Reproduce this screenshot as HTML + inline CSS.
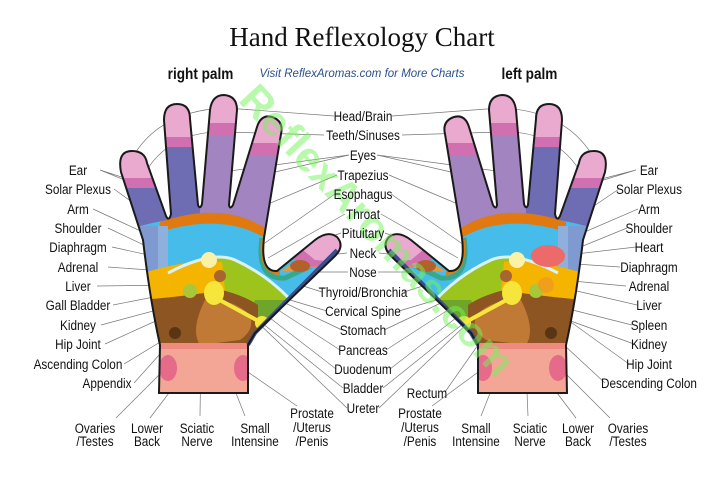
<!DOCTYPE html>
<html><head><meta charset="utf-8"><style>
html,body{margin:0;padding:0;background:#fff;}
svg{display:block;}
.t{font-family:"Liberation Sans",sans-serif;font-size:14px;fill:#111;text-anchor:middle;}
.ln{stroke:#777;stroke-width:0.7;fill:none;}
</style></head><body>
<svg width="716" height="487" viewBox="0 0 716 487" xmlns="http://www.w3.org/2000/svg">
<rect width="716" height="487" fill="#fff"/>
<defs>
<clipPath id="hc">
<path id="hp" d="M159,393 L160,345 Q150,300 143,240 L121,172 Q117,151 132,151 Q145,151 147,163 L166,216 Q169,222 171,214 L164,120 Q164,104 177,104 Q190,104 190,119 L198,205 Q200,210 202,204 L210,110 Q212,95 224,95 Q237,96 237,110 L229,205 Q230,210 233,205 L257,127 Q261,114 272,117 Q284,121 281,134 L264,238 Q260,272 277,271 L315,240 Q328,230 337,237 Q345,246 335,256 L255,333 L248,345 L248,393 Z"/>
</clipPath>
<g id="hand">
<g clip-path="url(#hc)">
<rect x="100" y="80" width="260" height="320" fill="#6e6db4"/>
<rect x="200" y="80" width="90" height="160" fill="#a184c0"/>
<rect x="110" y="140" width="45" height="48" fill="#d070b0"/>
<rect x="110" y="140" width="45" height="38" fill="#eaaad0"/>
<rect x="160" y="95" width="35" height="52" fill="#d070b0"/>
<rect x="160" y="95" width="35" height="42" fill="#eaaad0"/>
<rect x="205" y="90" width="38" height="45" fill="#d070b0"/>
<rect x="205" y="90" width="38" height="33" fill="#eaaad0"/>
<rect x="250" y="110" width="40" height="45" fill="#d070b0"/>
<rect x="250" y="110" width="40" height="33" fill="#eaaad0"/>
<path d="M140,226 Q220,205 270,236 L300,262 L345,240 L345,320 L140,320 Z" fill="#45bce9"/>
<path d="M160,222 Q225,200 268,230 L268,240 Q225,212 160,232 Z" fill="#e07a10"/>
<path d="M262,238 Q256,280 285,278 L345,250" stroke="#38a88a" stroke-width="5" fill="none"/>
<path d="M263,240 Q260,272 280,273" stroke="#e07a10" stroke-width="4" fill="none"/>
<path d="M280,272 L300,258 L312,244 L345,240 L345,262 L300,270 Z" fill="#e39a3a"/>
<path d="M293,258 L312,240 L345,236 L345,262 L305,268 Z" fill="#d070b0"/>
<path d="M303,250 L318,232 L345,232 L345,262 L315,260 Z" fill="#eaaad0"/>
<ellipse cx="300" cy="266" rx="10" ry="6" fill="#b3612a"/>
<rect x="138" y="226" width="30" height="72" fill="#8fb0dc"/>
<rect x="138" y="226" width="20" height="72" fill="#7e9ad0"/>
<path d="M165,273 Q210,250 235,260 Q270,275 300,310 L300,350 L140,350 L140,273 Z" fill="#9dc41c"/>
<path d="M140,274 Q190,258 222,262 L226,300 L140,300 Z" fill="#f4b400"/>
<path d="M168,273 Q212,250 235,260 Q270,276 296,306" stroke="#d8f2fb" stroke-width="3" fill="none"/>
<path d="M255,300 L300,300 L300,340 L240,340 Z" fill="#6fa52a"/>
<path d="M140,300 Q190,296 222,290 Q245,296 258,305 L258,345 L140,345 Z" fill="#8c5522"/>
<path d="M205,300 Q232,298 250,315 Q255,330 240,340 L200,345 Q190,330 205,300 Z" fill="#c07a35"/>
<circle cx="175" cy="333" r="6" fill="#5a3515"/>
<rect x="140" y="343" width="130" height="60" fill="#f3a596"/>
<rect x="140" y="343" width="130" height="6" fill="#ee8a80"/>
<ellipse cx="168" cy="368" rx="9" ry="13" fill="#e66a8a"/>
<ellipse cx="243" cy="368" rx="9" ry="13" fill="#e66a8a"/>
<circle cx="209" cy="260" r="8" fill="#fbf2a8"/>
<circle cx="220" cy="276" r="6" fill="#a86530"/>
<circle cx="190" cy="291" r="7" fill="#a8c83a"/>
<path d="M216,298 L262,323" stroke="#f6e63c" stroke-width="4"/>
<ellipse cx="214" cy="293" rx="10" ry="12" fill="#f6e63c"/>
<circle cx="262" cy="323" r="7" fill="#f6e63c"/>
</g>
<path d="M337,250 L255,333 L248,345" stroke="#3a4f90" stroke-width="4" fill="none"/>
<use href="#hp" fill="none" stroke="#1a1a1a" stroke-width="2"/>
</g>
</defs>

<g class="ln">
<path d="M100,170 L132,183 M100,170 L140,183"/>
<path d="M114,189 L209,258"/>
<path d="M93,209 L160,240"/>
<path d="M108,228 L165,255"/>
<path d="M112,247 L180,262"/>
<path d="M108,267 L218,275"/>
<path d="M97,286 L175,285"/>
<path d="M113,305 L190,290"/>
<path d="M101,325 L213,295"/>
<path d="M105,344 L158,320"/>
<path d="M124,364 L175,333"/>
<path d="M134,383 L177,335"/>
<path d="M116,418 L166,368"/>
<path d="M150,418 L175,385"/>
<path d="M200,416 L201,345"/>
<path d="M245,416 L215,340"/>
<path d="M297,406 L245,370"/>
<path d="M334,116 L226,108 M226,108 Q160,110 132,158"/>
<path d="M324,135 L225,132 M225,132 Q165,130 140,182"/>
<path d="M349,155 L262,175 M349,155 L222,172"/>
<path d="M337,175 L235,218"/>
<path d="M335,194 L262,245"/>
<path d="M345,214 L268,258"/>
<path d="M341,233 L322,240"/>
<path d="M347,253 L302,258"/>
<path d="M348,272 L305,272"/>
<path d="M322,292 L300,285"/>
<path d="M327,311 L290,300"/>
<path d="M342,330 L243,283"/>
<path d="M340,350 L275,308"/>
<path d="M336,369 L270,318"/>
<path d="M343,388 L262,323"/>
<path d="M347,408 L250,315"/>
<path d="M392,116 L500,108 M500,108 Q566,110 594,158"/>
<path d="M402,135 L501,132 M501,132 Q561,130 586,182"/>
<path d="M377,155 L464,175 M377,155 L504,172"/>
<path d="M389,175 L491,218"/>
<path d="M391,194 L464,245"/>
<path d="M381,214 L458,258"/>
<path d="M385,233 L404,240"/>
<path d="M379,253 L424,258"/>
<path d="M378,272 L421,272"/>
<path d="M404,292 L426,285"/>
<path d="M399,311 L436,300"/>
<path d="M384,330 L483,283"/>
<path d="M386,350 L451,308"/>
<path d="M390,369 L456,318"/>
<path d="M383,388 L464,323"/>
<path d="M379,408 L476,315"/>
<path d="M445,392 L478,345"/>
<path d="M432,406 L481,370"/>
<path d="M636,170 L594,183 M636,170 L586,183"/>
<path d="M619,189 L517,258"/>
<path d="M638,209 L566,240"/>
<path d="M627,228 L561,255"/>
<path d="M636,247 L550,257"/>
<path d="M620,267 L546,262"/>
<path d="M626,286 L508,275"/>
<path d="M637,305 L551,285"/>
<path d="M632,325 L513,295"/>
<path d="M634,344 L513,300"/>
<path d="M629,364 L568,320"/>
<path d="M605,383 L551,333"/>
<path d="M610,418 L560,368"/>
<path d="M576,418 L551,385"/>
<path d="M528,416 L525,345"/>
<path d="M481,416 L511,340"/>
</g>

<use href="#hand"/>
<use href="#hand" transform="translate(726,0) scale(-1,1)"/>
<ellipse cx="548" cy="256" rx="17" ry="11" fill="#ec6a6a"/>
<circle cx="546" cy="285" r="8" fill="#f09a20" opacity="0.8"/>

<text x="367" y="240" transform="rotate(47 367 240)" font-family="Liberation Sans, sans-serif" font-weight="bold" font-size="42" fill="#74f45a" fill-opacity="0.5" text-anchor="middle">ReflexAromas.com</text>

<text x="362" y="46" font-family="Liberation Serif, serif" font-size="27" fill="#111" text-anchor="middle">Hand Reflexology Chart</text>
<g transform="translate(362,0) scale(0.85,1) translate(-362,0)">
<text x="196" y="79" class="t" style="font-size:16px;font-weight:bold" transform="translate(-24,0)">right palm</text>
<text x="530" y="79" class="t" style="font-size:16px;font-weight:bold" transform="translate(29,0)">left palm</text>
</g>
<text x="362" y="77" font-family="Liberation Sans, sans-serif" font-style="italic" font-size="11.5" fill="#2a4f8a" text-anchor="middle">Visit ReflexAromas.com for More Charts</text>

<g class="t" transform="translate(363,0) scale(0.84,1) translate(-363,0)">
<text x="363" y="121">Head/Brain</text>
<text x="363" y="140">Teeth/Sinuses</text>
<text x="363" y="160">Eyes</text>
<text x="363" y="180">Trapezius</text>
<text x="363" y="199">Esophagus</text>
<text x="363" y="219">Throat</text>
<text x="363" y="238">Pituitary</text>
<text x="363" y="258">Neck</text>
<text x="363" y="277">Nose</text>
<text x="363" y="297">Thyroid/Bronchia</text>
<text x="363" y="316">Cervical Spine</text>
<text x="363" y="335">Stomach</text>
<text x="363" y="355">Pancreas</text>
<text x="363" y="374">Duodenum</text>
<text x="363" y="393">Bladder</text>
<text x="363" y="413">Ureter</text>
</g>
<g class="t" transform="translate(78,0) scale(0.84,1) translate(-78,0)">
<text x="78" y="175">Ear</text>
<text x="78" y="194">Solar Plexus</text>
<text x="78" y="214">Arm</text>
<text x="78" y="233">Shoulder</text>
<text x="78" y="252">Diaphragm</text>
<text x="78" y="272">Adrenal</text>
<text x="78" y="291">Liver</text>
<text x="78" y="310">Gall Bladder</text>
<text x="78" y="330">Kidney</text>
<text x="78" y="349">Hip Joint</text>
<text x="78" y="369">Ascending Colon</text>
</g>
<g class="t" transform="translate(107,0) scale(0.84,1) translate(-107,0)"><text x="107" y="388">Appendix</text></g>
<g class="t" transform="translate(95,0) scale(0.84,1) translate(-95,0)"><text x="95" y="433">Ovaries</text><text x="95" y="446">/Testes</text></g>
<g class="t" transform="translate(147,0) scale(0.84,1) translate(-147,0)"><text x="147" y="433">Lower</text><text x="147" y="446">Back</text></g>
<g class="t" transform="translate(197,0) scale(0.84,1) translate(-197,0)"><text x="197" y="433">Sciatic</text><text x="197" y="446">Nerve</text></g>
<g class="t" transform="translate(255,0) scale(0.84,1) translate(-255,0)"><text x="255" y="433">Small</text><text x="255" y="446">Intensine</text></g>
<g class="t" transform="translate(312,0) scale(0.84,1) translate(-312,0)"><text x="312" y="418">Prostate</text><text x="312" y="432">/Uterus</text><text x="312" y="446">/Penis</text></g>
<g class="t" transform="translate(649,0) scale(0.84,1) translate(-649,0)">
<text x="649" y="175">Ear</text>
<text x="649" y="194">Solar Plexus</text>
<text x="649" y="214">Arm</text>
<text x="649" y="233">Shoulder</text>
<text x="649" y="252">Heart</text>
<text x="649" y="272">Diaphragm</text>
<text x="649" y="291">Adrenal</text>
<text x="649" y="310">Liver</text>
<text x="649" y="330">Spleen</text>
<text x="649" y="349">Kidney</text>
<text x="649" y="369">Hip Joint</text>
<text x="649" y="388">Descending Colon</text>
</g>
<g class="t" transform="translate(427,0) scale(0.84,1) translate(-427,0)"><text x="427" y="398">Rectum</text></g>
<g class="t" transform="translate(420,0) scale(0.84,1) translate(-420,0)"><text x="420" y="418">Prostate</text><text x="420" y="432">/Uterus</text><text x="420" y="446">/Penis</text></g>
<g class="t" transform="translate(476,0) scale(0.84,1) translate(-476,0)"><text x="476" y="433">Small</text><text x="476" y="446">Intensine</text></g>
<g class="t" transform="translate(530,0) scale(0.84,1) translate(-530,0)"><text x="530" y="433">Sciatic</text><text x="530" y="446">Nerve</text></g>
<g class="t" transform="translate(578,0) scale(0.84,1) translate(-578,0)"><text x="578" y="433">Lower</text><text x="578" y="446">Back</text></g>
<g class="t" transform="translate(628,0) scale(0.84,1) translate(-628,0)"><text x="628" y="433">Ovaries</text><text x="628" y="446">/Testes</text></g>
</svg>
</body></html>
